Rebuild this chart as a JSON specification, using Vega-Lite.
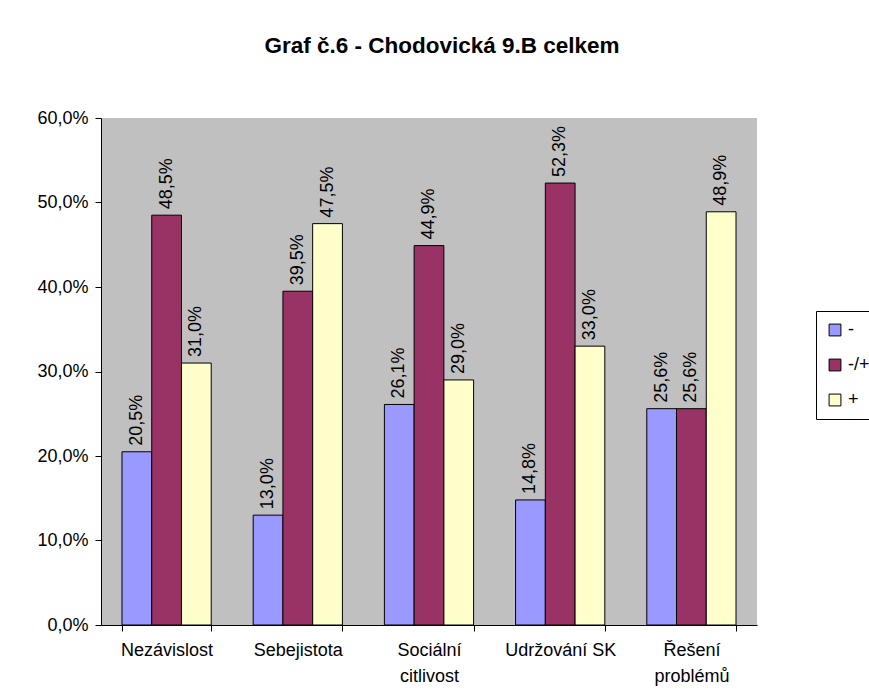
{
  "$schema": "https://vega.github.io/schema/vega-lite/v6.json",
  "width": 656,
  "height": 507,
  "autosize": {"type": "none"},
  "padding": {"left": 101, "top": 118, "right": 112, "bottom": 71},
  "background": "white",
  "title": {
    "text": "Graf č.6 - Chodovická 9.B celkem",
    "font": "Liberation Sans",
    "fontSize": 22.5,
    "fontWeight": "bold",
    "color": "black",
    "anchor": "middle",
    "offset": 52,
    "dx": 13
  },
  "data": {
    "values": [
      {"kategorie": "Nezávislost", "skupina": "-", "hodnota": 0.205},
      {"kategorie": "Nezávislost", "skupina": "-/+", "hodnota": 0.485},
      {"kategorie": "Nezávislost", "skupina": "+", "hodnota": 0.31},
      {"kategorie": "Sebejistota", "skupina": "-", "hodnota": 0.13},
      {"kategorie": "Sebejistota", "skupina": "-/+", "hodnota": 0.395},
      {"kategorie": "Sebejistota", "skupina": "+", "hodnota": 0.475},
      {"kategorie": "Sociální citlivost", "skupina": "-", "hodnota": 0.261},
      {"kategorie": "Sociální citlivost", "skupina": "-/+", "hodnota": 0.449},
      {"kategorie": "Sociální citlivost", "skupina": "+", "hodnota": 0.29},
      {"kategorie": "Udržování SK", "skupina": "-", "hodnota": 0.148},
      {"kategorie": "Udržování SK", "skupina": "-/+", "hodnota": 0.523},
      {"kategorie": "Udržování SK", "skupina": "+", "hodnota": 0.33},
      {"kategorie": "Řešení problémů", "skupina": "-", "hodnota": 0.256},
      {"kategorie": "Řešení problémů", "skupina": "-/+", "hodnota": 0.256},
      {"kategorie": "Řešení problémů", "skupina": "+", "hodnota": 0.489}
    ]
  },
  "encoding": {
    "x": {
      "field": "kategorie",
      "type": "nominal",
      "sort": null,
      "scale": {"paddingInner": 0.32, "paddingOuter": 0.16},
      "axis": {
        "title": null,
        "labelAngle": 0,
        "labelFont": "Liberation Sans",
        "labelFontSize": 18,
        "labelColor": "black",
        "labelLineHeight": 26,
        "labelPadding": 10,
        "tickSize": 6,
        "tickColor": "black",
        "tickBand": "extent",
        "domainColor": "black",
        "labelExpr": "datum.label == 'Udržování SK' ? datum.label : split(datum.label, ' ')"
      }
    },
    "xOffset": {"field": "skupina", "type": "nominal", "sort": ["-", "-/+", "+"]},
    "y": {
      "field": "hodnota",
      "type": "quantitative",
      "scale": {"domain": [0, 0.6], "nice": false},
      "axis": {
        "title": null,
        "values": [0, 0.1, 0.2, 0.3, 0.4, 0.5, 0.6],
        "grid": false,
        "labelFont": "Liberation Sans",
        "labelFontSize": 18,
        "labelColor": "black",
        "labelPadding": 7,
        "tickSize": 6,
        "tickColor": "black",
        "domainColor": "black",
        "labelExpr": "replace(format(datum.value, '.1%'), '.', ',')"
      }
    }
  },
  "layer": [
    {
      "mark": {"type": "bar", "stroke": "black", "strokeWidth": 1, "opacity": 1},
      "encoding": {
        "color": {
          "field": "skupina",
          "type": "nominal",
          "sort": ["-", "-/+", "+"],
          "scale": {"domain": ["-", "-/+", "+"], "range": ["#9999FF", "#993366", "#FFFFCC"]},
          "legend": {
            "title": null,
            "orient": "none",
            "legendX": 715,
            "legendY": 193,
            "strokeColor": "black",
            "fillColor": "white",
            "padding": 10,
            "symbolType": "square",
            "symbolSize": 140,
            "symbolStrokeColor": "black",
            "symbolStrokeWidth": 1,
            "symbolOpacity": 1,
            "labelFont": "Liberation Sans",
            "labelFontSize": 18,
            "labelColor": "black",
            "labelOffset": 4,
            "rowPadding": 17
          }
        }
      }
    },
    {
      "mark": {
        "type": "text",
        "angle": 270,
        "align": "left",
        "baseline": "middle",
        "dx": 6,
        "font": "Liberation Sans",
        "fontSize": 18,
        "color": "black"
      },
      "encoding": {
        "text": {"field": "hodnota", "type": "quantitative", "format": ".1%"}
      }
    }
  ],
  "config": {
    "view": {"fill": "#C0C0C0", "stroke": null},
    "locale": {"number": {"decimal": ",", "thousands": " ", "grouping": [3], "currency": ["", " Kč"]}}
  }
}
